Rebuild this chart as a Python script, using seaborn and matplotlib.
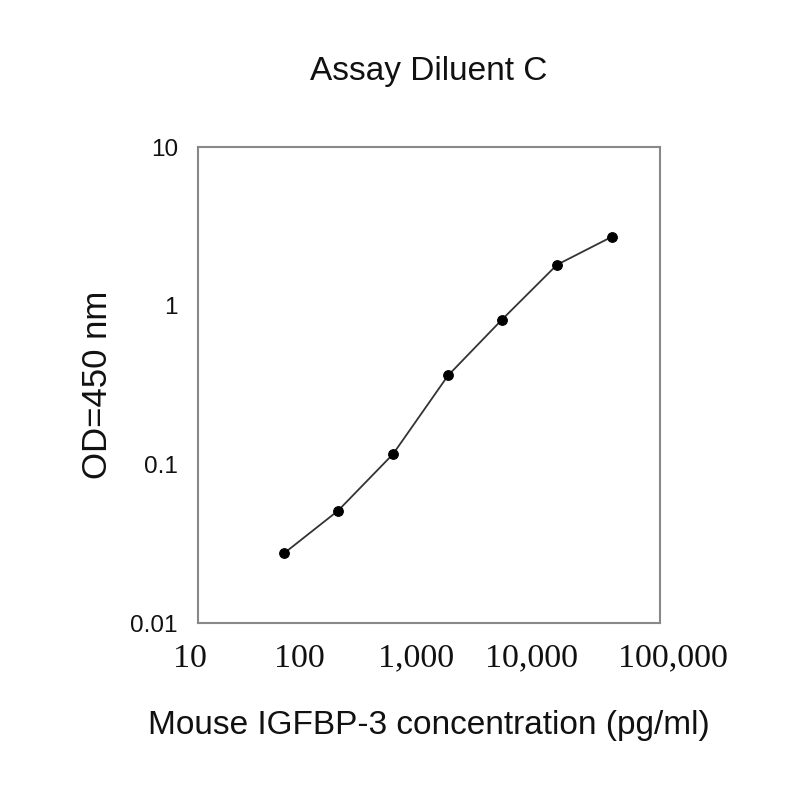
import pandas as pd
import matplotlib.pyplot as plt
import matplotlib.ticker as mticker
import matplotlib.transforms as mtransforms
import seaborn as sns

# standard curve values
concentration = [55.6, 163, 488, 1462, 4287, 12830, 38400]
od_450 = [0.0275, 0.051, 0.116, 0.363, 0.817, 1.81, 2.72]

x_ticks = [10, 100, 1000, 10000, 100000]
y_ticks = [0.01, 0.1, 1, 10]
y_tick_labels = ['0.01', '0.1', '1', '10']

data = pd.DataFrame({'conc': concentration, 'od': od_450})

sns.set_style('white')
plt.rcParams['font.family'] = ['Liberation Sans', 'DejaVu Sans']
plt.rcParams['text.color'] = '#111111'
plt.rcParams['axes.labelcolor'] = '#111111'

fig = plt.figure(figsize=(8, 8), dpi=100)
ax = fig.add_axes([0.2475, 0.22125, 0.5775, 0.595])

sns.lineplot(data=data, x='conc', y='od', ax=ax, color='#333333', linewidth=1.3,
             marker='o', markersize=7, markerfacecolor='black', markeredgecolor='black')

ax.set_xscale('log')
ax.set_yscale('log')
ax.set_xlim(10, 100000)
ax.set_ylim(0.01, 10)

ax.xaxis.set_major_locator(mticker.FixedLocator(x_ticks))
ax.xaxis.set_minor_locator(mticker.NullLocator())
ax.yaxis.set_major_locator(mticker.FixedLocator(y_ticks))
ax.yaxis.set_minor_locator(mticker.NullLocator())
ax.set_xticklabels([f'{v:,}' for v in x_ticks], family='Liberation Serif', fontsize=24.5,
                   color='#111111')
ax.set_yticklabels(y_tick_labels, fontsize=17.5, color='#111111')

ax.tick_params(axis='both', direction='inout', length=5, width=1.2, color='#888888')
ax.tick_params(axis='x', pad=12)
ax.tick_params(axis='y', pad=12)

# the original labels sit a little off their ticks (after tick_params, which resets transforms)
shifts = [-6, -10, -9.5, -9, 9.5]
for lab, dx in zip(ax.get_xticklabels(), shifts):
    lab.set_transform(lab.get_transform() + mtransforms.ScaledTranslation(dx / 72, 0, fig.dpi_scale_trans))

for side in ['top', 'bottom', 'left', 'right']:
    ax.spines[side].set_visible(True)
    ax.spines[side].set_color('#888888')
    ax.spines[side].set_linewidth(1.5)

ax.set_xlabel('Mouse IGFBP-3 concentration (pg/ml)', fontsize=24, labelpad=26)
ax.set_ylabel('OD=450 nm', fontsize=25, labelpad=12)
ax.set_title('Assay Diluent C', fontsize=24, pad=48)

fig.savefig('out.png', dpi=100)
